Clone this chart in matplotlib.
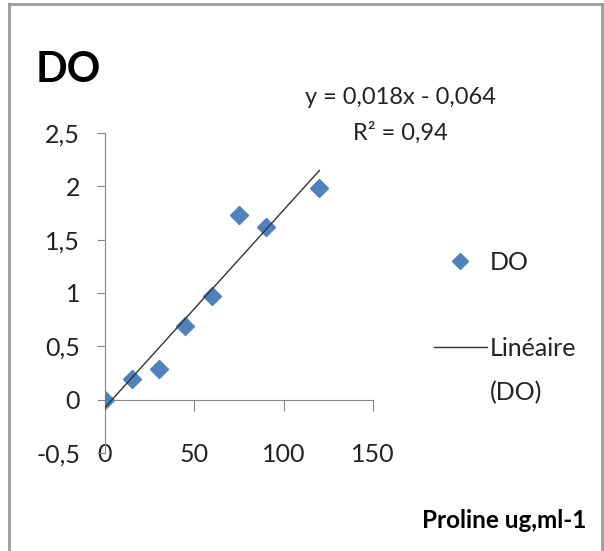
import matplotlib
matplotlib.use("Agg")
import matplotlib.pyplot as plt
import numpy as np
from matplotlib.lines import Line2D

plt.rcParams['font.family'] = ['Lato', 'DejaVu Sans']

# Data
proline = [0, 15, 30, 45, 60, 75, 90, 120]
do_values = [0.0, 0.19, 0.29, 0.69, 0.97, 1.73, 1.62, 1.98]
x_ticks = [0, 50, 100, 150]
x_tick_labels = ['0', '50', '100', '150']
y_ticks = [-0.5, 0, 0.5, 1, 1.5, 2, 2.5]
y_tick_labels = ['-0,5', '0', '0,5', '1', '1,5', '2', '2,5']
title = 'DO'
x_label = 'Proline ug,ml-1'
series_label = 'DO'
trend_label_lines = ['Linéaire', '(DO)']
equation_text = 'y = 0,018x - 0,064'
r2_text = 'R² = 0,94'

blue = '#4F81BD'
axis_gray = '#868686'
text_col = '#222222'

fig = plt.figure(figsize=(6.04, 5.51), dpi=100)
ax = fig.add_axes([105/604, 1-453/551, (373-105)/604, (453-133)/551])

ax.plot(proline, do_values, linestyle='none', marker='D', markersize=9.5,
        color=blue, label=series_label, zorder=3)

# Linear trendline
coef = np.polyfit(proline, do_values, 1)
xs = np.array([min(proline), max(proline)])
ax.plot(xs, np.polyval(coef, xs), color='#333333', linewidth=1.0,
        label=trend_label_lines[0], zorder=4)

ax.set_xlim(0, 150)
ax.set_ylim(-0.5, 2.5)
ax.set_xticks(x_ticks)
ax.set_xticklabels(x_tick_labels)
ax.set_yticks(y_ticks)
ax.set_yticklabels(y_tick_labels)

for s in ['top', 'right']:
    ax.spines[s].set_visible(False)
ax.spines['bottom'].set_position(('data', 0))
ax.spines['bottom'].set_color(axis_gray)
ax.spines['left'].set_color(axis_gray)
ax.tick_params(axis='x', direction='out', length=8, color=axis_gray,
               labelsize=18, pad=23, labelcolor=text_col)
ax.tick_params(axis='y', direction='out', length=6, color=axis_gray,
               labelsize=18, pad=12, labelcolor=text_col)
ax.patch.set_visible(False)

fig.text(36/604, 1-70/551, title, fontsize=30, fontweight='bold',
         ha='left', va='center', color='black')
fig.text(400/604, 1-97/551, equation_text, fontsize=17, ha='center', va='center',
         color=text_col)
fig.text(400/604, 1-133/551, r2_text, fontsize=17, ha='center', va='center',
         color=text_col)
fig.text(586/604, 1-521/551, x_label, fontsize=17.5, fontweight='bold',
         ha='right', va='center', color='black')

leg = ax.legend(loc='upper left', bbox_to_anchor=(434/604, 1-251/551),
                bbox_transform=fig.transFigure, frameon=False, fontsize=18,
                handlelength=2.1, handletextpad=0.15, labelspacing=2.52,
                borderpad=0, borderaxespad=0, markerscale=0.85)
for t in leg.get_texts():
    t.set_color(text_col)

# second line of the trendline legend label
fig.text(490/604, 1-393/551, trend_label_lines[1], fontsize=18, ha='left',
         va='center', color=text_col)

# chart border (left, top, right)
fig.add_artist(Line2D([9/604, 9/604], [0, 1-4/551], transform=fig.transFigure,
                      color='#9a9a9a', linewidth=2))
fig.add_artist(Line2D([9/604, 602/604], [1-4/551, 1-4/551], transform=fig.transFigure,
                      color='#9a9a9a', linewidth=2))
fig.add_artist(Line2D([602/604, 602/604], [0, 1-4/551], transform=fig.transFigure,
                      color='#9a9a9a', linewidth=2))

fig.savefig('out.png', dpi=100)
